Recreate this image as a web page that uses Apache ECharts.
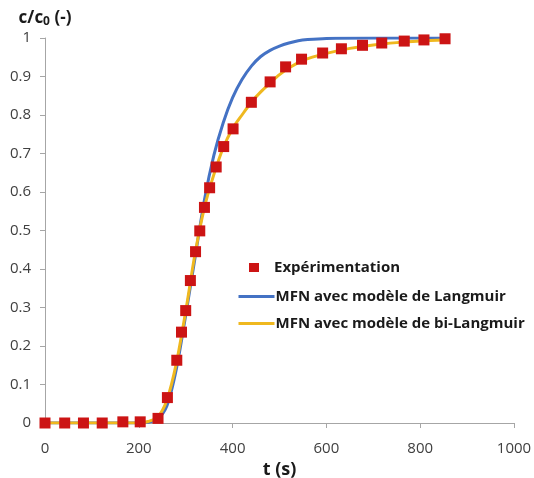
<!DOCTYPE html>
<html>
<head>
<meta charset="utf-8">
<script src="https://cdn.jsdelivr.net/npm/echarts@6/dist/echarts.min.js"></script>
<style>
  html, body { margin: 0; padding: 0; background: #fff; }
  #chart { width: 534px; height: 478px; }
</style>
</head>
<body>
<div id="chart"></div>
<script>
// points expérimentaux (t en s, c/c0)
const expT = [0, 42, 82, 122, 166, 203, 241, 261, 281, 291, 300, 310, 321, 330, 340, 351, 365, 381, 401, 440, 480, 513, 547, 592, 632, 677, 718, 766, 808, 853]
const expC = [0, 0, 0, 0, 0.003, 0.003, 0.012, 0.066, 0.163, 0.236, 0.292, 0.37, 0.445, 0.499, 0.56, 0.611, 0.665, 0.718, 0.764, 0.833, 0.886, 0.925, 0.945, 0.961, 0.972, 0.981, 0.987, 0.992, 0.995, 0.998]

// MFN - Langmuir
const langT = [0, 200, 220, 240, 260, 280, 300, 320, 340, 360, 380, 400, 420, 440, 460, 480, 500, 520, 540, 560, 600, 700, 800, 850]
const langC = [0, 0, 0.002, 0.01, 0.045, 0.14, 0.28, 0.43, 0.58, 0.695, 0.78, 0.845, 0.892, 0.927, 0.952, 0.968, 0.979, 0.987, 0.993, 0.996, 0.999, 1, 1, 1]

// MFN - bi-Langmuir
const biT = [0, 200, 220, 240, 260, 280, 300, 320, 340, 360, 380, 400, 420, 440, 460, 480, 500, 520, 550, 600, 650, 700, 750, 800, 850]
const biC = [0, 0, 0.004, 0.015, 0.06, 0.155, 0.29, 0.44, 0.56, 0.645, 0.715, 0.765, 0.80, 0.833, 0.86, 0.883, 0.905, 0.922, 0.942, 0.96, 0.973, 0.982, 0.988, 0.992, 0.995]

const names = ['Expérimentation', 'MFN avec modèle de Langmuir', 'MFN avec modèle de bi-Langmuir']

const zip = (xs, ys) => xs.map((x, i) => [x, ys[i]])

const chart = echarts.init(document.getElementById('chart'))
const font = 'Open Sans'

chart.setOption({
  animation: false,
  grid: { left: 45, right: 20, top: 38, bottom: 55, outerBoundsMode: 'none' },
  legend: [
    {
      data: [names[0]],
      left: 244,
      top: 255,
      itemWidth: 10,
      itemHeight: 9,
      textStyle: { fontFamily: font, fontWeight: 'bold', fontSize: 15, color: '#1a1a1a', padding: [0, 0, 0, 10] }
    },
    {
      data: [names[1], names[2]],
      orient: 'vertical',
      left: 232,
      top: 284,
      itemGap: 12,
      itemWidth: 36,
      itemHeight: 16,
      itemStyle: { opacity: 0 },
      lineStyle: { width: 3 },
      textStyle: { fontFamily: font, fontWeight: 'bold', fontSize: 15, color: '#1a1a1a', padding: [0, 0, 0, -4] }
    }
  ],
  xAxis: {
    type: 'value',
    min: 0,
    max: 1000,
    interval: 200,
    name: 't (s)',
    nameLocation: 'middle',
    nameGap: 37,
    nameTextStyle: { fontFamily: font, fontWeight: 'bold', fontSize: 18, color: '#1a1a1a' },
    axisLine: { lineStyle: { color: '#a6a6a6' } },
    axisTick: { length: 5, lineStyle: { color: '#a6a6a6' } },
    axisLabel: { margin: 18, fontFamily: font, fontSize: 15, color: '#404040', formatter: v => String(v) },
    splitLine: { show: false }
  },
  yAxis: {
    type: 'value',
    min: 0,
    max: 1,
    interval: 0.1,
    name: 'c/c{sub|0} (-)',
    nameLocation: 'end',
    nameGap: 10,
    nameTextStyle: {
      fontFamily: font, fontWeight: 'bold', fontSize: 17, color: '#1a1a1a', align: 'center',
      rich: { sub: { fontFamily: font, fontWeight: 'bold', fontSize: 12, color: '#1a1a1a', verticalAlign: 'bottom', padding: [8, 0, 0, 0] } }
    },
    axisLine: { show: true, lineStyle: { color: '#a6a6a6' } },
    axisTick: { show: true, length: 5, lineStyle: { color: '#a6a6a6' } },
    axisLabel: { margin: 14, fontFamily: font, fontSize: 15, color: '#404040' },
    splitLine: { show: false }
  },
  series: [
    {
      name: names[0],
      type: 'scatter',
      data: zip(expT, expC),
      symbol: 'rect',
      symbolSize: 11,
      itemStyle: { color: '#cc1414', opacity: 1 },
      z: 5
    },
    {
      name: names[1],
      type: 'line',
      data: zip(langT, langC),
      smooth: 0.3,
      symbol: 'none',
      lineStyle: { color: '#4472c4', width: 3 },
      itemStyle: { color: '#4472c4' },
      z: 2
    },
    {
      name: names[2],
      type: 'line',
      data: zip(biT, biC),
      smooth: 0.3,
      symbol: 'none',
      lineStyle: { color: '#efb81f', width: 3 },
      itemStyle: { color: '#efb81f' },
      z: 3
    }
  ]
})
</script>
</body>
</html>
